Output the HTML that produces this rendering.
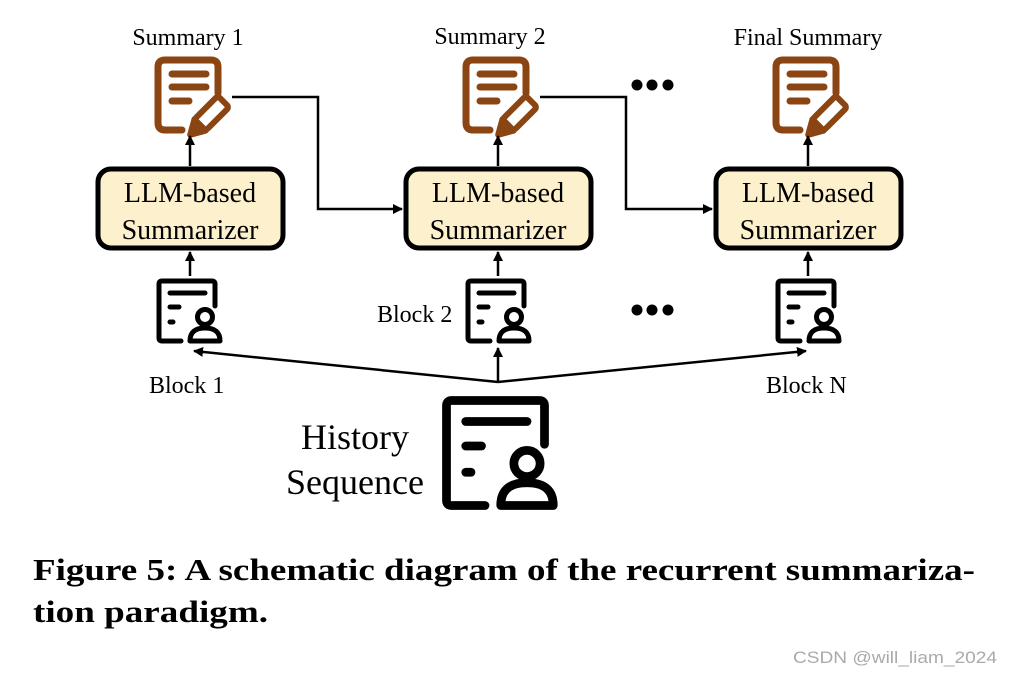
<!DOCTYPE html>
<html><head><style>
html,body{margin:0;padding:0;background:#fff;}
svg{display:block;}
text{font-family:"Liberation Serif",serif;}
</style></head><body>
<svg width="1012" height="675" viewBox="0 0 1012 675" xmlns="http://www.w3.org/2000/svg">
<defs>
<marker id="ah" markerWidth="10" markerHeight="10" refX="9" refY="5" orient="auto" markerUnits="userSpaceOnUse">
<path d="M0,0 L10,5 L0,10 Z" fill="#000"/>
</marker>
<g id="sum" fill="none" stroke="#8b4513" stroke-width="7" stroke-linecap="round" stroke-linejoin="round">
<path d="M27,73 L10,73 Q3,73 3,66 L3,10 Q3,3 10,3 L56,3 Q63,3 63,10 L63,36"/>
<path d="M17,17 H51 M17,30 H51 M17,44 H34"/>
<g transform="translate(55,58) rotate(-45)">
<rect x="-14" y="-8" width="33" height="16" rx="3" stroke-width="6"/>
<path d="M-14,-8 L-28,0 L-14,8" stroke-width="6" fill="#8b4513"/>
</g>
</g>
<g id="blk" fill="none" stroke="#000" stroke-width="5" stroke-linecap="round" stroke-linejoin="round">
<path d="M24,62 H5 Q2,62 2,59 V5 Q2,2 5,2 H55 Q58,2 58,5 V27"/>
<path d="M13,14 H48 M13,28 H22 M13,43 H16"/>
<circle cx="48" cy="38" r="7.5"/>
<path d="M33,62 Q33,49 48,49 Q63,49 63,62 Z"/>
</g>
</defs>

<g font-size="24" text-anchor="middle" fill="#000">
<text x="188" y="45">Summary 1</text>
<text x="490" y="44">Summary 2</text>
<text x="808" y="45">Final Summary</text>
</g>

<use href="#sum" x="155" y="57"/>
<use href="#sum" x="463" y="57"/>
<use href="#sum" x="773" y="57"/>

<g fill="#000">
<circle cx="637" cy="85" r="5.5"/><circle cx="652" cy="85" r="5.5"/><circle cx="668" cy="85" r="5.5"/>
<circle cx="637" cy="310" r="5.5"/><circle cx="652" cy="310" r="5.5"/><circle cx="668" cy="310" r="5.5"/>
</g>

<g fill="#fdf0cc" stroke="#000" stroke-width="5">
<rect x="98" y="169" width="185" height="79" rx="13"/>
<rect x="406" y="169" width="185" height="79" rx="13"/>
<rect x="716" y="169" width="185" height="79" rx="13"/>
</g>
<g font-size="28" text-anchor="middle" fill="#000">
<text x="190" y="202">LLM-based</text><text x="190" y="239">Summarizer</text>
<text x="498" y="202">LLM-based</text><text x="498" y="239">Summarizer</text>
<text x="808" y="202">LLM-based</text><text x="808" y="239">Summarizer</text>
</g>

<g stroke="#000" stroke-width="2.5" fill="none" marker-end="url(#ah)">
<path d="M190,166 V136"/>
<path d="M498,166 V136"/>
<path d="M808,166 V136"/>
<path d="M190,276 V252"/>
<path d="M498,276 V252"/>
<path d="M808,276 V252"/>
<path d="M232,97 H318 V209 H402"/>
<path d="M540,97 H626 V209 H712"/>
<path d="M498,382 L194,351"/>
<path d="M498,382 L806,351"/>
<path d="M498,382 V348"/>
</g>

<use href="#blk" x="157" y="279"/>
<use href="#blk" x="466" y="279"/>
<use href="#blk" x="776" y="279"/>
<use href="#blk" transform="translate(443,397) scale(1.75)"/>

<g font-size="24" fill="#000">
<text x="149" y="393">Block 1</text>
<text x="377" y="322">Block 2</text>
<text x="766" y="393">Block N</text>
</g>
<g font-size="36" fill="#000" text-anchor="middle">
<text x="355" y="449">History</text>
<text x="355" y="494">Sequence</text>
</g>

<g font-size="31" font-weight="bold" fill="#000">
<text x="33" y="580" textLength="942" lengthAdjust="spacingAndGlyphs">Figure 5: A schematic diagram of the recurrent summariza-</text>
<text x="33" y="622" textLength="235" lengthAdjust="spacingAndGlyphs">tion paradigm.</text>
</g>
<text x="793" y="663" font-size="17" fill="#aaa" style="font-family:'Liberation Sans',sans-serif" textLength="204" lengthAdjust="spacingAndGlyphs">CSDN @will_liam_2024</text>
</svg>
</body></html>
